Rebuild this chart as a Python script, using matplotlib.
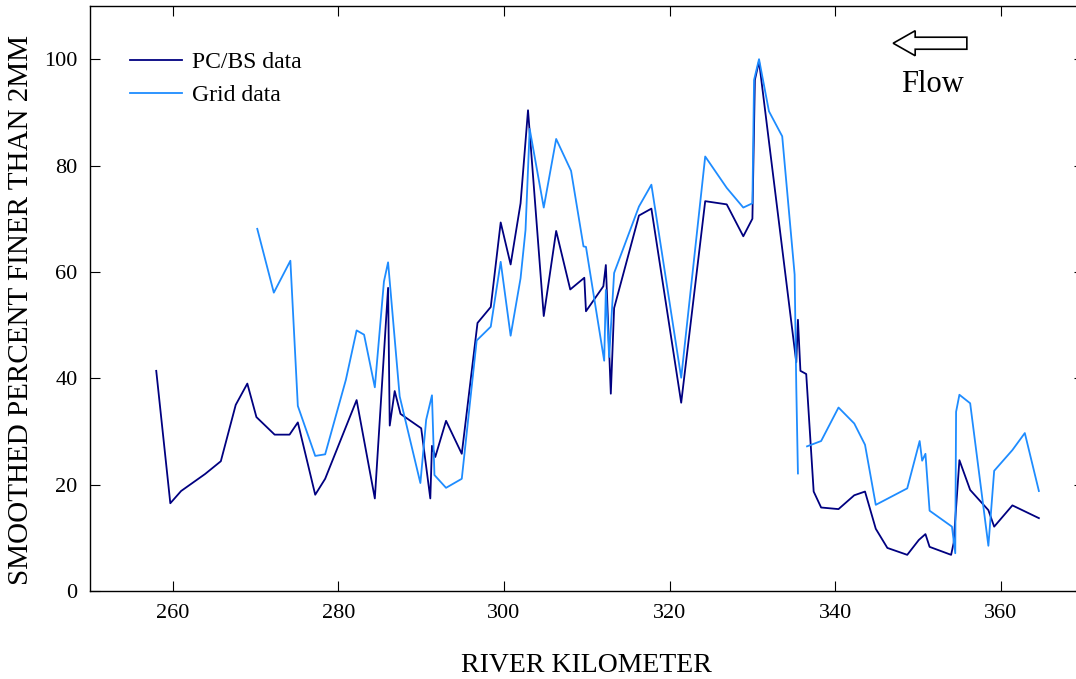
import numpy as np
import matplotlib
matplotlib.use("Agg")
import matplotlib.pyplot as plt
from matplotlib.patches import FancyArrow

plt.rcParams['font.family'] = ['Liberation Serif', 'DejaVu Serif']

# PC/BS data (river km, smoothed % finer than 2 mm)
pc_km = [258.0, 259.7, 261.0, 263.9, 265.8, 267.6, 269.0, 270.1, 272.3, 274.1,
         275.1, 277.2, 278.4, 282.2, 284.4, 286.0, 286.2, 286.8, 287.5, 290.0,
         291.1, 291.3, 291.7, 293.0, 294.9, 296.8, 298.4, 299.6, 300.8, 302.0,
         302.9, 304.8, 306.3, 308.0, 309.7, 309.9, 312.0, 312.3, 312.9, 313.3,
         316.3, 317.8, 321.4, 324.3, 326.9, 328.9, 330.0, 330.3, 330.8, 335.3,
         335.5, 335.8, 336.5, 337.4, 338.3, 340.4, 342.3, 343.6, 344.9, 346.3,
         348.7, 350.1, 350.9, 351.4, 354.0, 354.3, 355.0, 356.3, 358.5, 359.2,
         361.4, 364.6]
pc_pct = [41.4, 16.5, 18.8, 22.0, 24.4, 35.0, 39.0, 32.7, 29.4, 29.4,
          31.7, 18.1, 21.1, 35.9, 17.4, 57.0, 31.1, 37.6, 33.3, 30.6,
          17.4, 27.3, 25.2, 32.0, 25.8, 50.4, 53.4, 69.3, 61.4, 72.9,
          90.4, 51.7, 67.7, 56.7, 58.9, 52.6, 57.3, 61.3, 37.1, 53.2,
          70.6, 71.9, 35.4, 73.3, 72.7, 66.7, 70.0, 96.1, 99.6, 43.0,
          51.0, 41.4, 40.8, 18.7, 15.7, 15.4, 18.0, 18.7, 11.7, 8.1,
          6.8, 9.6, 10.7, 8.3, 6.8, 9.0, 24.6, 19.0, 15.2, 12.1,
          16.1, 13.7]

# Grid data (gap near km 336)
grid_km = [270.2, 272.2, 274.2, 275.1, 277.2, 278.4, 280.9, 282.2, 283.1, 284.4,
           285.5, 286.0, 287.4, 289.9, 290.6, 291.3, 291.6, 293.0, 294.9, 296.7,
           298.4, 299.6, 300.8, 302.0, 302.6, 303.1, 304.8, 306.3, 308.1, 309.6,
           309.9, 312.1, 312.3, 312.7, 313.3, 316.3, 317.8, 321.4, 324.3, 326.9,
           328.9, 330.0, 330.2, 330.8, 332.0, 333.6, 335.1, 335.3, 335.5, np.nan,
           336.6, 338.3, 340.4, 342.3, 343.6, 344.9, 348.7, 350.2, 350.5, 350.9,
           351.4, 354.1, 354.5, 354.6, 355.0, 356.3, 358.5, 359.2, 361.4, 362.9,
           364.6]
grid_pct = [68.1, 56.1, 62.1, 34.8, 25.4, 25.7, 39.7, 49.0, 48.2, 38.3,
            58.2, 61.8, 36.6, 20.3, 32.2, 36.8, 21.8, 19.4, 21.1, 47.1,
            49.7, 61.9, 48.0, 58.8, 67.9, 86.9, 72.1, 85.0, 79.0, 64.8,
            64.7, 43.3, 56.6, 44.0, 59.8, 72.3, 76.4, 40.1, 81.7, 75.8,
            72.1, 72.9, 96.1, 100.0, 90.2, 85.5, 59.5, 38.3, 22.1, np.nan,
            27.2, 28.2, 34.5, 31.5, 27.5, 16.2, 19.3, 28.2, 24.5, 25.8,
            15.1, 12.1, 7.1, 33.7, 36.9, 35.3, 8.5, 22.6, 26.5, 29.7,
            18.8]

fig = plt.figure(figsize=(10.76, 6.79), dpi=100)
ax = fig.add_axes([90/1076, 88/679, 993.6/1076, 585/679])

ax.plot(pc_km, pc_pct, color='#000080', lw=1.3, label='PC/BS data')
ax.plot(grid_km, grid_pct, color='#1E8CFF', lw=1.3, label='Grid data')

ax.set_xlim(250, 370)
ax.set_ylim(0, 110)
ax.set_xticks(np.arange(260, 361, 20))
ax.set_yticks(np.arange(0, 101, 20))
ax.tick_params(direction='in', length=7, width=0.8, top=True, right=True,
               labelsize=16, pad=9)
for s in ax.spines.values():
    s.set_linewidth(1.0)
ax.spines['right'].set_visible(False)

ax.set_xlabel('RIVER KILOMETER', fontsize=20, labelpad=22)
ax.set_ylabel('SMOOTHED PERCENT FINER THAN 2MM', fontsize=21)
ax.yaxis.set_label_coords(-0.056, 0.48)

ax.legend(loc='upper left', bbox_to_anchor=(0.04, 0.922), frameon=False,
          fontsize=17, handlelength=2.2, handletextpad=0.45,
          labelspacing=0.5, borderpad=0, borderaxespad=0)

# flow direction arrow
ax.add_patch(FancyArrow(355.9, 103.0, -8.9, 0, width=2.26, head_width=4.7,
                        head_length=2.66, length_includes_head=True,
                        fc='white', ec='black', lw=1.2))
ax.text(351.8, 95.2, 'Flow', fontsize=22, ha='center', va='center')

fig.savefig('out.png', dpi=100)
